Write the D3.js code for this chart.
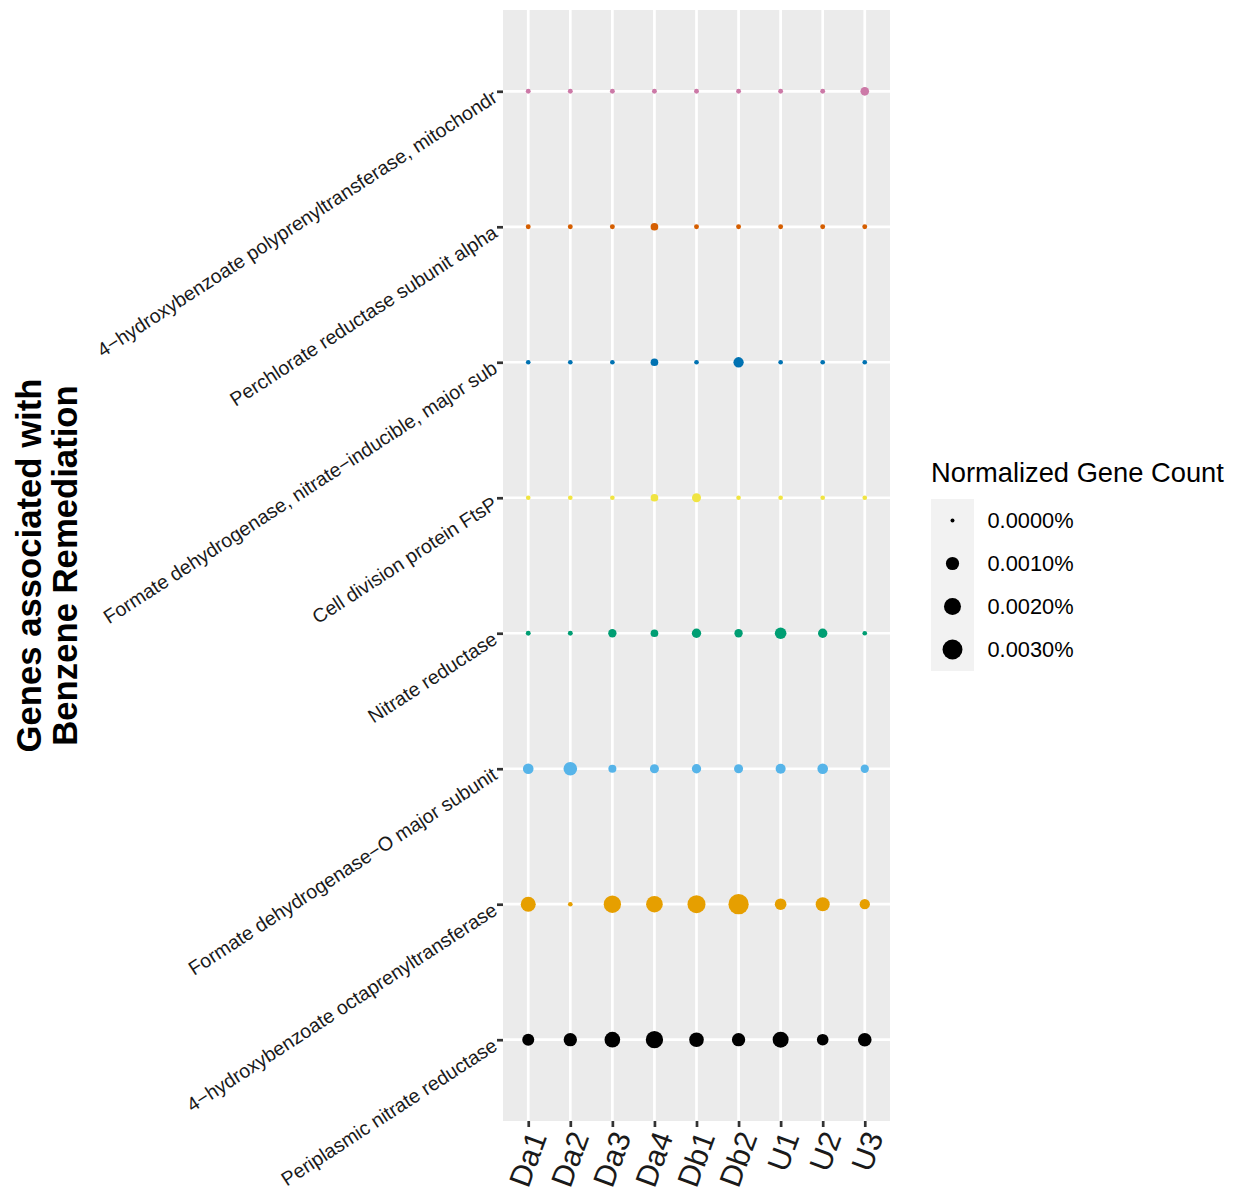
<!DOCTYPE html>
<html>
<head>
<meta charset="utf-8">
<script src="https://cdn.jsdelivr.net/npm/d3@7"></script>
<style>
  html, body { margin: 0; padding: 0; background: #ffffff; }
  svg { display: block; font-family: "Liberation Sans", Arial, Helvetica, sans-serif; }
</style>
</head>
<body>
<svg id="chart" width="1238" height="1193"></svg>
<script>
// Samples along the x axis
const samples = ["Da1", "Da2", "Da3", "Da4", "Db1", "Db2", "U1", "U2", "U3"];

// Genes, listed from the bottom row to the top row
const genes = [
  "Periplasmic nitrate reductase",
  "4\u2212hydroxybenzoate octaprenyltransferase",
  "Formate dehydrogenase\u2212O major subunit",
  "Nitrate reductase",
  "Cell division protein FtsP",
  "Formate dehydrogenase, nitrate\u2212inducible, major sub",
  "Perchlorate reductase subunit alpha",
  "4\u2212hydroxybenzoate polyprenyltransferase, mitochondr"
];

// Normalized gene counts (%) per gene, in sample order
const periplasmicNitrateReductase = [0.00076, 0.00103, 0.00161, 0.00210, 0.00134, 0.00103, 0.00170, 0.00069, 0.00110];
const octaprenyltransferase       = [0.00143, 0.000005, 0.00210, 0.00189, 0.00232, 0.00314, 0.00069, 0.00118, 0.00047];
const formateDehydrogenaseO       = [0.00052, 0.00110, 0.00019, 0.00030, 0.00034, 0.00030, 0.00043, 0.00052, 0.00022];
const nitrateReductase            = [0.00001, 0.00001, 0.00022, 0.00016, 0.00034, 0.00022, 0.00069, 0.00034, 0.000005];
const cellDivisionFtsP            = [0.000005, 0.000005, 0.000005, 0.00016, 0.00030, 0.000005, 0.000005, 0.000005, 0.000005];
const formateDehydrogenaseN       = [0.000005, 0.000005, 0.000005, 0.00016, 0.000005, 0.00047, 0.000005, 0.000005, 0.000005];
const perchlorateReductase        = [0.00001, 0.00001, 0.00001, 0.00016, 0.00001, 0.00001, 0.00001, 0.00001, 0.00001];
const polyprenyltransferase       = [0.00001, 0.00001, 0.00001, 0.00001, 0.00001, 0.00001, 0.00001, 0.00001, 0.00026];

const seriesValues = [
  periplasmicNitrateReductase, octaprenyltransferase, formateDehydrogenaseO, nitrateReductase,
  cellDivisionFtsP, formateDehydrogenaseN, perchlorateReductase, polyprenyltransferase
];

// One colour per gene row
const geneColors = ["#000000", "#E69F00", "#56B4E9", "#009E73", "#F0E442", "#0072B2", "#D55E00", "#CC79A7"];

// Size legend
const legendBreaks = [0, 0.001, 0.002, 0.003];
const legendTitle = "Normalized Gene Count";
const yTitleLines = ["Genes associated with", "Benzene Remediation"];

// Flatten into point records
const points = [];
genes.forEach((g, gi) => {
  samples.forEach((s, si) => {
    points.push({ gene: g, sample: s, value: seriesValues[gi][si], color: geneColors[gi] });
  });
});

const svg = d3.select("#chart");

const panel = { left: 503, right: 890, top: 10, bottom: 1121 };

const x = d3.scalePoint().domain(samples).range([panel.left, panel.right]).padding(0.6);
const y = d3.scalePoint().domain(genes.slice().reverse()).range([panel.top, panel.bottom]).padding(0.6);
const r = d3.scaleSqrt().domain([0, 0.0035]).range([2, 10.6]);

// Panel background
svg.append("rect")
  .attr("x", panel.left).attr("y", panel.top)
  .attr("width", panel.right - panel.left).attr("height", panel.bottom - panel.top)
  .attr("fill", "#EBEBEB");

// Grid lines
const grid = svg.append("g").attr("stroke", "#ffffff").attr("stroke-width", 2.7);
grid.selectAll("line.v").data(samples).join("line")
  .attr("class", "v")
  .attr("x1", d => x(d)).attr("x2", d => x(d))
  .attr("y1", panel.top).attr("y2", panel.bottom);
grid.selectAll("line.h").data(genes).join("line")
  .attr("class", "h")
  .attr("x1", panel.left).attr("x2", panel.right)
  .attr("y1", d => y(d)).attr("y2", d => y(d));

// Points
svg.append("g").selectAll("circle").data(points).join("circle")
  .attr("cx", d => x(d.sample))
  .attr("cy", d => y(d.gene))
  .attr("r", d => r(d.value))
  .attr("fill", d => d.color);

// Y axis
const yAxis = svg.append("g")
  .attr("transform", `translate(${panel.left},0)`)
  .call(d3.axisLeft(y).tickSize(6).tickPadding(0));
yAxis.select(".domain").remove();
yAxis.selectAll(".tick line").attr("stroke", "#333333").attr("stroke-width", 2.7);
yAxis.selectAll(".tick text")
  .attr("x", -12).attr("y", -3).attr("dy", "0.72em")
  .attr("text-anchor", "end")
  .attr("transform", "rotate(-33,-12,-3)")
  .attr("fill", "#1a1a1a")
  .style("font-size", "19.6px")
  .style("font-family", "'Liberation Sans', Arial, sans-serif");

// X axis
const xAxis = svg.append("g")
  .attr("transform", `translate(0,${panel.bottom})`)
  .call(d3.axisBottom(x).tickSize(6).tickPadding(0));
xAxis.select(".domain").remove();
xAxis.selectAll(".tick line").attr("stroke", "#333333").attr("stroke-width", 2.7);
xAxis.selectAll(".tick text")
  .attr("x", -2).attr("y", 8).attr("dy", "0.72em")
  .attr("text-anchor", "end")
  .attr("transform", "rotate(-70,-2,8)")
  .attr("fill", "#1a1a1a")
  .style("font-size", "30.5px")
  .style("font-family", "'Liberation Sans', Arial, sans-serif");

// Y axis title (two lines)
const yMid = (panel.top + panel.bottom) / 2;
const yTitle = svg.append("text")
  .attr("transform", `translate(41,${yMid}) rotate(-90)`)
  .attr("text-anchor", "middle")
  .attr("font-weight", "bold")
  .attr("fill", "#000")
  .style("font-size", "34.7px");
yTitle.selectAll("tspan").data(yTitleLines).join("tspan")
  .attr("x", 0)
  .attr("dy", (d, i) => i === 0 ? 0 : 35.5)
  .text(d => d);

// Size legend
const legend = svg.append("g").attr("transform", "translate(931,0)");
legend.append("text")
  .attr("x", 0).attr("y", 482)
  .attr("fill", "#000")
  .style("font-size", "27.3px")
  .text(legendTitle);

const keySize = 43;
const keyTop = 499;
legend.append("rect")
  .attr("x", 0).attr("y", keyTop)
  .attr("width", keySize).attr("height", keySize * legendBreaks.length)
  .attr("fill", "#F2F2F2");

const keys = legend.selectAll("g.key").data(legendBreaks).join("g")
  .attr("class", "key")
  .attr("transform", (d, i) => `translate(0,${keyTop + keySize * i + keySize / 2})`);
keys.append("circle")
  .attr("cx", keySize / 2).attr("cy", 0)
  .attr("r", d => r(d))
  .attr("fill", "#000");
keys.append("text")
  .attr("x", keySize + 13.5).attr("y", 0).attr("dy", "0.36em")
  .attr("fill", "#000")
  .style("font-size", "21.8px")
  .text(d => d3.format(".4f")(d) + "%");
</script>
</body>
</html>
